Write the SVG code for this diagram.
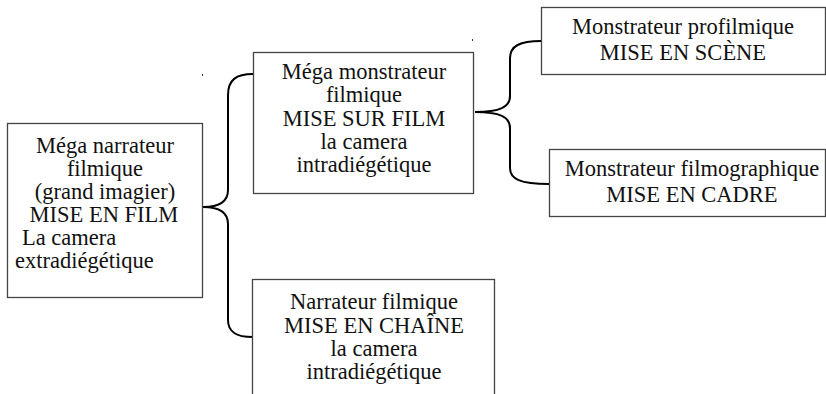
<svg xmlns="http://www.w3.org/2000/svg" width="826" height="394" viewBox="0 0 826 394">
<style>
.box{fill:#fff;stroke:#444;stroke-width:1.3}
.t{font-family:"Liberation Serif","Times New Roman",serif;font-size:22.5px;fill:#111;text-anchor:middle}
.l{text-anchor:start}
.br{fill:none;stroke:#000;stroke-width:2}
.dot{fill:#333}
</style>
<rect width="826" height="394" fill="#fff"/>
<g id="connectors">
<path class="br" d="M253,74 C236,74 228,80 228,95 L228,190 C228,202 218,207 203,207 C218,207 228,212 228,224 L228,320 C228,332 236,337 253,337"/>
<path class="br" d="M541,41 C520,41 510,46 510,58 L510,96 C510,107 500,112 475,112 C500,112 510,117 510,128 L510,168 C510,179 520,184 549,184"/>
</g>
<rect class="dot" x="202" y="74" width="1" height="2"/>
<rect class="dot" x="472" y="39" width="1" height="2"/>
<g id="n1">
<rect class="box" x="7.5" y="123.5" width="195" height="174"/>
<text class="t" x="105" y="153">Méga narrateur</text>
<text class="t" x="105" y="176">filmique</text>
<text class="t" x="105" y="199">(grand imagier)</text>
<text class="t" x="104" y="222">MISE EN FILM</text>
<text class="t l" x="22" y="245">La camera</text>
<text class="t l" x="15" y="268">extradiégétique</text>
</g>
<g id="n2">
<rect class="box" x="253.5" y="52.5" width="220" height="141"/>
<text class="t" x="364" y="79">Méga monstrateur</text>
<text class="t" x="364" y="102">filmique</text>
<text class="t" x="364" y="126">MISE SUR FILM</text>
<text class="t" x="364" y="149">la camera</text>
<text class="t" x="364" y="172">intradiégétique</text>
</g>
<g id="n3">
<rect class="box" x="541.5" y="7.5" width="284" height="67"/>
<text class="t" x="683" y="34">Monstrateur profilmique</text>
<text class="t" x="683" y="60">MISE EN SCÈNE</text>
</g>
<g id="n4">
<rect class="box" x="549.5" y="149.5" width="276" height="67"/>
<text class="t" x="692" y="176">Monstrateur filmographique</text>
<text class="t" x="692" y="202">MISE EN CADRE</text>
</g>
<g id="n5">
<rect class="box" x="252.5" y="279.5" width="242" height="130"/>
<text class="t" x="374" y="309">Narrateur filmique</text>
<text class="t" x="374" y="333">MISE EN CHAÎNE</text>
<text class="t" x="374" y="356">la camera</text>
<text class="t" x="374" y="379">intradiégétique</text>
</g>
</svg>
